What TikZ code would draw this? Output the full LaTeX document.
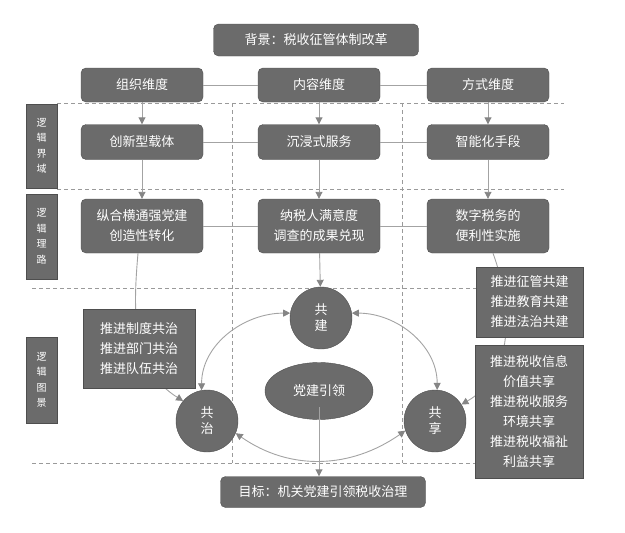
\documentclass[tikz,border=0pt]{standalone}
\usepackage{fontspec}
\usepackage{xcolor}
\usetikzlibrary{arrows.meta,shapes.geometric}
\setmainfont{Noto Sans CJK SC}
\definecolor{boxfill}{HTML}{6B6B6B}
\definecolor{boxline}{HTML}{4E4E4E}
\definecolor{linkgray}{HTML}{A3A3A3}
\definecolor{tipgray}{HTML}{858585}
\definecolor{dashgray}{HTML}{9A9A9A}

\begin{document}
\begin{tikzpicture}[x=1pt,y=1pt,
    box/.style={draw=boxline,fill=boxfill,text=white,rounded corners=5pt,
      minimum width=122pt,font=\fontsize{13}{20}\selectfont,align=center,inner sep=0pt},
    listbox/.style={draw=boxline,fill=boxfill,text=white,
      font=\fontsize{13}{20}\selectfont,align=center,inner sep=0pt},
    tagbox/.style={draw=boxline,fill=boxfill,text=white,minimum width=31pt,
      font=\fontsize{10}{15.5}\selectfont,align=center,inner sep=0pt},
    ring/.style={ellipse,draw=boxline,fill=boxfill,text=white,
      font=\fontsize{13}{16}\selectfont,align=center,inner sep=0pt},
    link/.style={draw=linkgray,line width=0.9pt},
    arr/.style={link,-{Triangle[length=7pt,width=7pt,fill=tipgray,color=tipgray]}},
    twoarr/.style={link,{Triangle[length=7pt,width=7pt,fill=tipgray,color=tipgray]}-{Triangle[length=7pt,width=7pt,fill=tipgray,color=tipgray]}},
    zone/.style={dashgray,line width=0.8pt,dash pattern=on 4pt off 3pt}]
    \useasboundingbox (0,0) rectangle (625,-533);
    % dashed zones
    \draw[zone] (57,-103) -- (564,-103);
    \draw[zone] (57,-189) -- (564,-189);
    \draw[zone] (32,-288) -- (564,-288);
    \draw[zone] (32,-463) -- (564,-463);
    \foreach \x in {232,402} \draw[zone] (\x,-103) -- (\x,-463);
    % boxes
    \node[box,minimum width=205pt,minimum height=32pt] (bg) at (316,-40) {背景：税收征管体制改革};
    \node[box,minimum height=34pt] (dimA) at (142,-85) {组织维度};
    \node[box,minimum height=34pt] (dimB) at (319,-85) {内容维度};
    \node[box,minimum height=34pt] (dimC) at (488,-85) {方式维度};
    \node[box,minimum height=35pt] (carA) at (142,-142) {创新型载体};
    \node[box,minimum height=35pt] (carB) at (319,-142) {沉浸式服务};
    \node[box,minimum height=35pt] (carC) at (488,-142) {智能化手段};
    \node[box,minimum height=54pt] (pathA) at (142,-226) {纵合横通强党建\\创造性转化};
    \node[box,minimum height=54pt] (pathB) at (319,-226) {纳税人满意度\\调查的成果兑现};
    \node[box,minimum height=54pt] (pathC) at (488,-226) {数字税务的\\便利性实施};
    \node[tagbox,minimum height=84pt] (tagA) at (41.5,-146) {逻\\辑\\界\\域};
    \node[tagbox,minimum height=85pt] (tagB) at (41.5,-236.5) {逻\\辑\\理\\路};
    \node[tagbox,minimum height=86pt] (tagC) at (41.5,-380) {逻\\辑\\图\\景};
    \node[ring,minimum width=62pt,minimum height=62pt] (jian) at (321,-318) {共\\建};
    \node[ring,minimum width=62pt,minimum height=62pt] (zhi) at (207,-421) {共\\治};
    \node[ring,minimum width=62pt,minimum height=62pt] (xiang) at (435,-421) {共\\享};
    \node[ring,minimum width=108pt,minimum height=57pt] (lead) at (319,-391) {党建引领};
    \node[box,minimum width=205pt,minimum height=31pt] (goal) at (323,-492) {目标：机关党建引领税收治理};
    % long curves behind the lists
    \draw[arr] (pathA.south) ++(-4,0) to[out=-95,in=148] (zhi.140);
    \draw[arr] (pathC.south) ++(5,0) to[out=-70,in=30] (xiang.32);
    \node[listbox,minimum width=112pt,minimum height=79pt] (listA) at (139,-348.5) {推进制度共治\\推进部门共治\\推进队伍共治};
    \node[listbox,minimum width=107pt,minimum height=70pt] (listB) at (529.5,-302) {推进征管共建\\推进教育共建\\推进法治共建};
    \node[listbox,minimum width=108pt,minimum height=133pt] (listC) at (529,-411.5) {推进税收信息\\价值共享\\推进税收服务\\环境共享\\推进税收福祉\\利益共享};
    % links
    \draw[link] (dimA) -- (dimB) -- (dimC);
    \draw[link] (carA) -- (carB) -- (carC);
    \draw[link] (pathA) -- (pathB) -- (pathC);
    \draw[arr] (dimA) -- (carA);
    \draw[arr] (dimB) -- (carB);
    \draw[arr] (dimC) -- (carC);
    \draw[arr] (carA) -- (pathA);
    \draw[arr] (carB) -- (pathB);
    \draw[arr] (carC) -- (pathC);
    \draw[arr] (pathB) -- (jian);
    \draw[twoarr] (jian.171) to[out=180,in=90] (zhi.100);
    \draw[twoarr] (jian.9) to[out=0,in=90] (xiang.86);
    \draw[twoarr] (zhi.-23) to[out=-35,in=-145] (xiang.-162);
    \draw[arr,shorten <=16pt] (lead.center) -- (lead.center |- goal.north);
\end{tikzpicture}
\end{document}
